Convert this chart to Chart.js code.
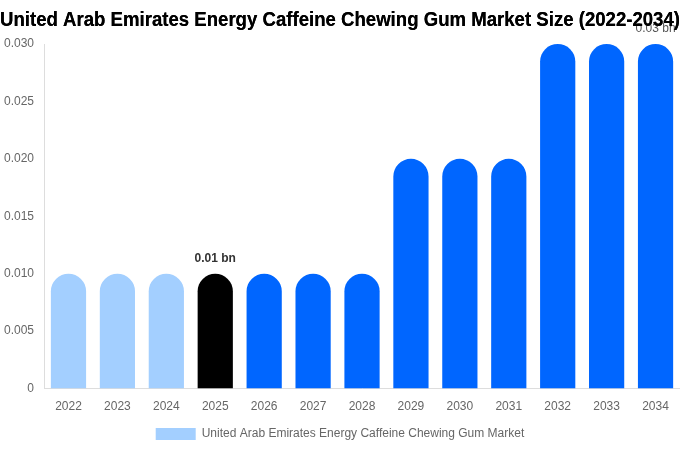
<!DOCTYPE html>
<html><head><meta charset="utf-8">
<script src="https://cdn.jsdelivr.net/npm/chart.js@4.4.0/dist/chart.umd.min.js"></script>
<style>html,body{margin:0;padding:0;background:#fff}#wrap{width:680px;height:450px}</style>
</head><body><div id="wrap"><canvas id="c"></canvas></div>
<script>
const categories = ['2022','2023','2024','2025','2026','2027','2028','2029','2030','2031','2032','2033','2034'];
const values = [0.01,0.01,0.01,0.01,0.01,0.01,0.01,0.02,0.02,0.02,0.03,0.03,0.03];
const barColors = ['#a3cfff','#a3cfff','#a3cfff','#000000','#0066ff','#0066ff','#0066ff','#0066ff','#0066ff','#0066ff','#0066ff','#0066ff','#0066ff'];
const labelled = {3:'0.01 bn', 12:'0.03 bn'};
const yTicks = [0,0.005,0.010,0.015,0.020,0.025,0.030];
const seriesName = 'United Arab Emirates Energy Caffeine Chewing Gum Market';
const titleText = 'United Arab Emirates Energy Caffeine Chewing Gum Market Size (2022-2034)';

const labelPlugin = {
  id:'lbl',
  afterDatasetsDraw(chart){
    const ctx = chart.ctx;
    const meta = chart.getDatasetMeta(0);
    ctx.save();
    ctx.textAlign='center';
    ctx.textBaseline='bottom';
    Object.keys(labelled).forEach(k=>{
      const el = meta.data[k];
      if(+k===12){ ctx.font='12px "Liberation Sans", Arial, sans-serif'; ctx.fillStyle='#555'; }
      else { ctx.font='bold 12px "Liberation Sans", Arial, sans-serif'; ctx.fillStyle='#333'; }
      ctx.fillText(labelled[k], el.x, el.y-9);
    });
    ctx.restore();
    if(chart.titleBlock) chart.titleBlock.draw(chart.chartArea);
  }
};

new Chart(document.getElementById('c'),{
  type:'bar',
  data:{labels:categories,datasets:[{label:seriesName,data:values,backgroundColor:barColors,borderRadius:20,borderSkipped:'start',barPercentage:0.72,categoryPercentage:1}]},
  options:{
    responsive:true,maintainAspectRatio:false,animation:false,
    layout:{padding:{top:0,right:0,left:0,bottom:0}},
    plugins:{
      title:{display:true,text:titleText,color:'#000',font:{family:'"Liberation Sans", Arial, sans-serif',size:20,weight:'bold'},padding:{top:8,bottom:12}},
      legend:{position:'bottom',labels:{padding:3,color:'#666',font:{family:'"Liberation Sans", Arial, sans-serif',size:12},boxWidth:40,boxHeight:12,generateLabels(chart){return [{text:seriesName,fillStyle:'#a3cfff',strokeStyle:'#a3cfff',lineWidth:0,hidden:false,datasetIndex:0,fontColor:'#666'}];}}},
      tooltip:{enabled:false}
    },
    scales:{
      x:{grid:{display:false,drawTicks:false},border:{color:'#ddd'},ticks:{color:'#666',padding:11,font:{family:'"Liberation Sans", Arial, sans-serif',size:12}}},
      y:{min:0,max:0.03,grid:{display:false,drawTicks:false},border:{color:'#ddd'},
        afterBuildTicks(s){s.ticks=yTicks.map(v=>({value:v}));},
        afterFit(s){s.width-=6;},
        ticks:{color:'#666',padding:10,font:{family:'"Liberation Sans", Arial, sans-serif',size:12},callback:v=>v===0?'0':v.toFixed(3)}},
    }
  },
  plugins:[labelPlugin]
});
</script></body></html>
